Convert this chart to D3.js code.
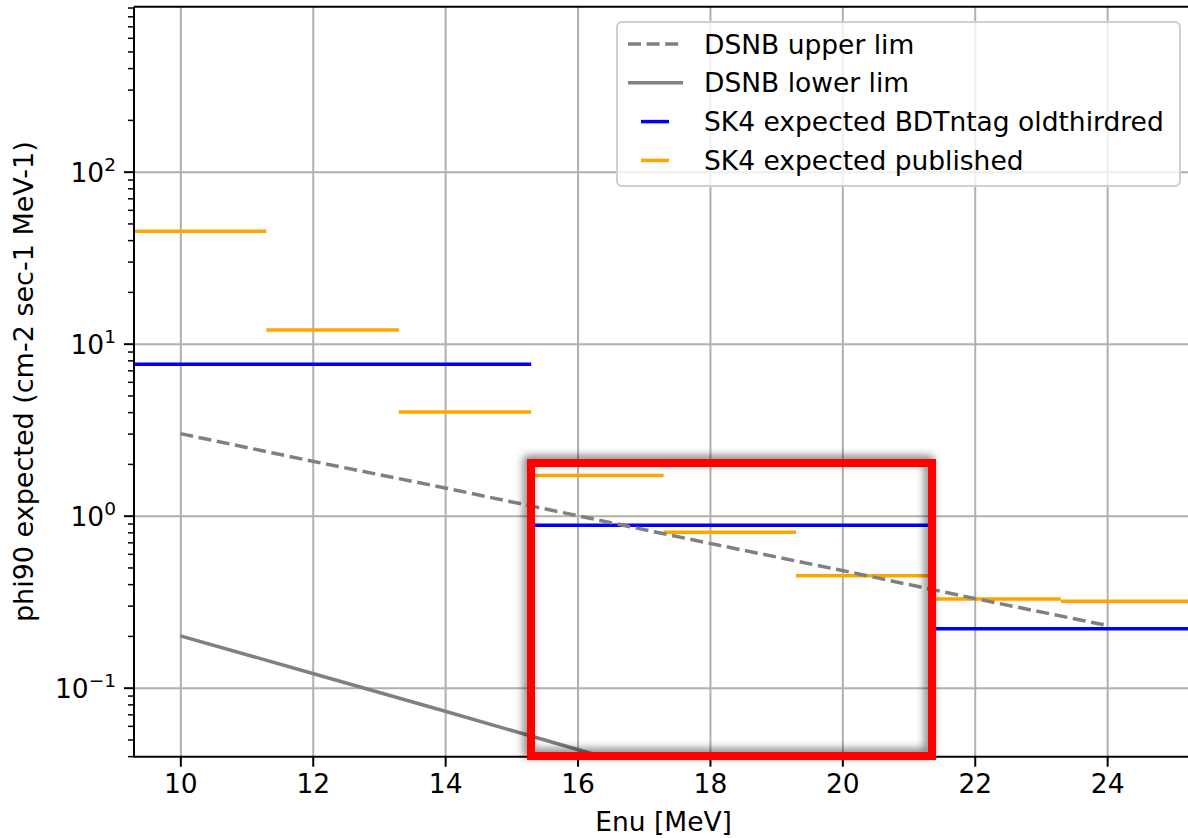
<!DOCTYPE html>
<html>
<head>
<meta charset="utf-8">
<style>
  body { margin: 0; background: #fff; font-family: "DejaVu Sans"; }
  svg { display: block; }
  .tick text { font-family: "DejaVu Sans"; fill: #000; }
  .grid line { stroke: #b0b0b0; stroke-width: 2; }
  .grid .domain { display: none; }
</style>
</head>
<body>
<script src="https://cdn.jsdelivr.net/npm/d3@7"></script>
<script>
// bin edges and values of the step curves
var pubEdges = [9.3, 11.3, 13.3, 15.3, 17.3, 19.3, 21.3, 23.3, 25.3],
    pubVals = [45, 12, 4.0, 1.71, 0.80, 0.448, 0.328, 0.318],
    bdtEdges = [9.3, 15.3, 21.3, 25.3],
    bdtVals = [7.6, 0.88, 0.22];

// DSNB band read at the grid lines
var dsnbE = [10, 12, 14, 16, 18, 20, 22, 24],
    dsnbUpper = [3.0, 2.07, 1.45, 1.0, 0.69, 0.48, 0.33, 0.23],
    dsnbLower = [0.2, 0.121, 0.073, 0.0437, 0.0262, 0.0157, 0.0094, 0.0056];

var xTicks = [10, 12, 14, 16, 18, 20, 22, 24],
    yTicks = [0.1, 1, 10, 100],
    yExps = ["\u22121", "0", "1", "2"];

var legendItems = [
  {label: "DSNB upper lim", color: "gray", dash: true, long: true},
  {label: "DSNB lower lim", color: "gray", dash: false, long: true},
  {label: "SK4 expected BDTntag oldthirdred", color: "blue", dash: false, long: false},
  {label: "SK4 expected published", color: "orange", dash: false, long: false}
];

var W = 1188, H = 838,
    pL = 134, pT = 6.7, pB = 756.7, pR = 1193.2,
    fs = 26.5;

var x = d3.scaleLinear().domain([9.3, 25.3]).range([pL, pR]);
var y = d3.scaleLog().domain([0.0397, 910]).range([pB, pT]);

var svg = d3.select("body").append("svg")
    .attr("width", W).attr("height", H);

var defs = svg.append("defs");
defs.append("clipPath").attr("id", "plot")
  .append("rect").attr("x", pL).attr("y", pT)
    .attr("width", pR - pL).attr("height", pB - pT);

var sh = defs.append("filter").attr("id", "shadow")
    .attr("x", "-10%").attr("y", "-10%").attr("width", "120%").attr("height", "120%");
sh.append("feDropShadow").attr("dx", -3).attr("dy", -3)
    .attr("stdDeviation", 4).attr("flood-color", "#000").attr("flood-opacity", 0.55);

// grid
svg.append("g").attr("class", "grid")
    .attr("transform", "translate(0," + pB + ")")
    .call(d3.axisBottom(x).tickValues(xTicks).tickSize(-(pB - pT)).tickFormat(""));
svg.append("g").attr("class", "grid")
    .attr("transform", "translate(" + pL + ",0)")
    .call(d3.axisLeft(y).tickValues(yTicks).tickSize(-(pR - pL)).tickFormat(""));

var plot = svg.append("g").attr("clip-path", "url(#plot)");

function hsteps(edges, vals, color) {
  plot.append("g").selectAll("line")
      .data(vals)
    .enter().append("line")
      .attr("x1", function(d, i) { return x(edges[i]); })
      .attr("x2", function(d, i) { return x(edges[i + 1]); })
      .attr("y1", function(d) { return y(d); })
      .attr("y2", function(d) { return y(d); })
      .attr("stroke", color)
      .attr("stroke-width", 3.5);
}
hsteps(bdtEdges, bdtVals, "blue");
hsteps(pubEdges, pubVals, "orange");

var line = d3.line()
    .x(function(d, i) { return x(dsnbE[i]); })
    .y(function(d) { return y(d); });

plot.append("path").datum(dsnbLower)
    .attr("d", line).attr("fill", "none")
    .attr("stroke", "gray").attr("stroke-width", 3.5);
plot.append("path").datum(dsnbUpper)
    .attr("d", line).attr("fill", "none")
    .attr("stroke", "gray").attr("stroke-width", 3.5)
    .attr("stroke-dasharray", "13,5.6");

// axes
var xAxis = svg.append("g")
    .attr("transform", "translate(0," + pB + ")")
    .call(d3.axisBottom(x).tickValues(xTicks).tickSize(10).tickPadding(7));
xAxis.select(".domain").remove();
xAxis.selectAll(".tick line").attr("stroke-width", 2);
xAxis.selectAll(".tick text").attr("font-size", fs);

var minor = [];
for (var e = -2; e <= 2; e++) {
  for (var k = 2; k <= 9; k++) {
    var v = k * Math.pow(10, e);
    if (v > 0.0397 && v < 910) minor.push(v);
  }
}
svg.append("g")
    .attr("transform", "translate(" + pL + ",0)")
    .call(d3.axisLeft(y).tickValues(minor).tickSize(6).tickFormat(""))
  .call(function(g) {
    g.select(".domain").remove();
    g.selectAll(".tick line").attr("stroke-width", 1.5);
  });

var yAxis = svg.append("g")
    .attr("transform", "translate(" + pL + ",0)")
    .call(d3.axisLeft(y).tickValues(yTicks).tickSize(10).tickPadding(8).tickFormat(""));
yAxis.select(".domain").remove();
yAxis.selectAll(".tick line").attr("stroke-width", 2);
yAxis.selectAll(".tick text")
    .attr("font-size", fs)
    .attr("dy", "0.38em")
    .each(function(d, i) {
      var t = d3.select(this);
      t.append("tspan").text("10");
      t.append("tspan").attr("font-size", 18.5).attr("dy", -11).text(yExps[i]);
    });

// spines
svg.append("path")
    .attr("d", "M" + pL + "," + pT + "V" + pB + "H" + W)
    .attr("fill", "none").attr("stroke", "#000").attr("stroke-width", 2);
svg.append("line")
    .attr("x1", pL).attr("x2", W).attr("y1", pT).attr("y2", pT)
    .attr("stroke", "#000").attr("stroke-width", 2);

// axis labels
svg.append("text")
    .attr("x", (pL + pR) / 2).attr("y", 831)
    .attr("text-anchor", "middle").attr("font-size", fs)
    .text("Enu [MeV]");
svg.append("text")
    .attr("transform", "translate(33," + (pT + pB) / 2 + ") rotate(-90)")
    .attr("text-anchor", "middle").attr("font-size", 27)
    .text("phi90 expected (cm-2 sec-1 MeV-1)");

// legend
var lg = svg.append("g");
lg.append("rect")
    .attr("x", 617).attr("y", 22).attr("width", 563).attr("height", 164)
    .attr("rx", 5)
    .attr("fill", "#fff").attr("fill-opacity", 0.8)
    .attr("stroke", "#d0d0d0").attr("stroke-width", 2);

var rows = lg.selectAll("g.row")
    .data(legendItems)
  .enter().append("g")
    .attr("class", "row")
    .attr("transform", function(d, i) { return "translate(0," + (44 + i * 38.8) + ")"; });
rows.append("line")
    .attr("x1", function(d) { return d.long ? 628 : 641; })
    .attr("x2", function(d) { return d.long ? 683 : 669; })
    .attr("stroke", function(d) { return d.color; })
    .attr("stroke-width", 3.5)
    .attr("stroke-dasharray", function(d) { return d.dash ? "13,5.6" : null; });
rows.append("text")
    .attr("x", 704).attr("dy", "0.36em")
    .attr("font-size", fs)
    .text(function(d) { return d.label; });

// highlight box
svg.append("rect")
    .attr("x", 531).attr("y", 463).attr("width", 401).attr("height", 293)
    .attr("fill", "none")
    .attr("stroke", "#ff0000").attr("stroke-width", 8)
    .attr("filter", "url(#shadow)");
</script>
</body>
</html>
